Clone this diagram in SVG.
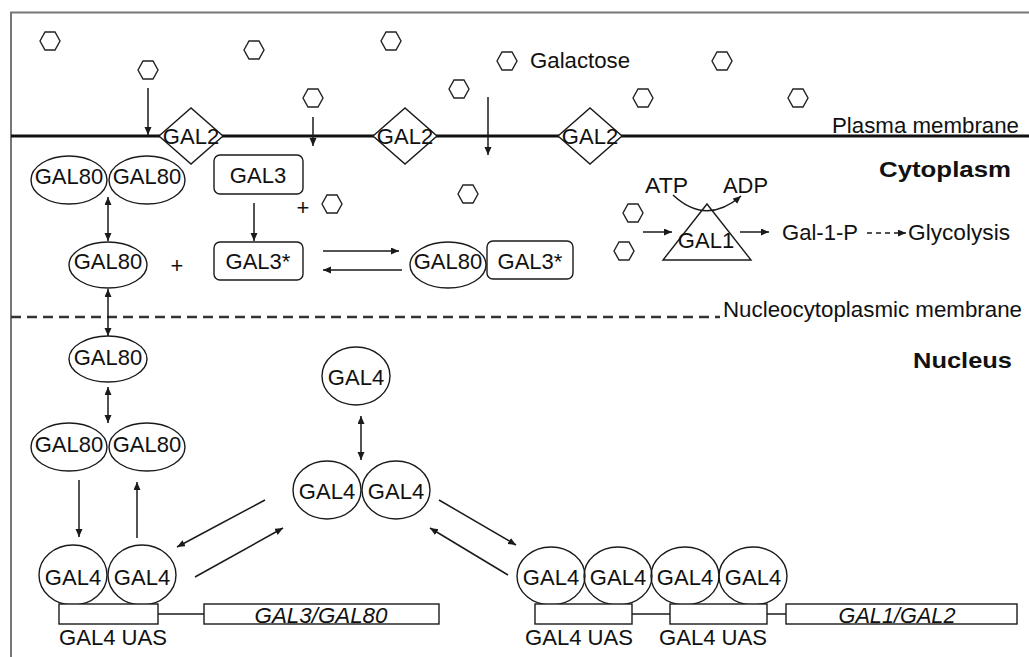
<svg xmlns="http://www.w3.org/2000/svg" xmlns:xlink="http://www.w3.org/1999/xlink" width="1029" height="657" viewBox="0 0 1029 657">
<defs>
<style>
text{font-family:"Liberation Sans",Arial,sans-serif;font-size:22px;fill:#111;}
.c{text-anchor:middle;}
.b{font-weight:bold;}
.i{font-style:italic;}
.sh{fill:none;stroke:#1a1a1a;stroke-width:1.4;}
.shw{fill:#fff;stroke:#1a1a1a;stroke-width:1.4;}
.hex{fill:none;stroke:#222;stroke-width:1.4;}
.ar{fill:none;stroke:#1a1a1a;stroke-width:1.5;}
</style>
<marker id="ah" markerUnits="userSpaceOnUse" markerWidth="10" markerHeight="8" refX="8" refY="3.5" orient="auto-start-reverse">
<path d="M0,0 L8,3.5 L0,7 z" fill="#1a1a1a"/>
</marker>
<polygon id="hx" points="-10,0 -5,-9 5,-9 10,0 5,9 -5,9"/>
</defs>
<rect width="1029" height="657" fill="#fff"/>
<!-- frame -->
<g id="frame" fill="none" stroke="#777" stroke-width="2">
<path d="M1029,12.5 H11 V657"/>
</g>
<!-- membranes -->
<g id="membranes">
<line x1="11" y1="136" x2="1029" y2="136" stroke="#111" stroke-width="3"/>
<line x1="11" y1="317" x2="720" y2="317" stroke="#333" stroke-width="2.5" stroke-dasharray="10,6"/>
<text x="832" y="133" textLength="187" lengthAdjust="spacingAndGlyphs">Plasma membrane</text>
<text x="723" y="317" textLength="299" lengthAdjust="spacingAndGlyphs">Nucleocytoplasmic membrane</text>
<text class="b" x="879" y="177" font-size="24" textLength="132" lengthAdjust="spacingAndGlyphs">Cytoplasm</text>
<text class="b" x="913" y="368" font-size="24" textLength="99" lengthAdjust="spacingAndGlyphs">Nucleus</text>
</g>
<!-- galactose molecules -->
<g id="galactose" class="hex">
<use xlink:href="#hx" href="#hx" x="50" y="41"/>
<use xlink:href="#hx" href="#hx" x="148" y="70"/>
<use xlink:href="#hx" href="#hx" x="254" y="50"/>
<use xlink:href="#hx" href="#hx" x="391" y="41"/>
<use xlink:href="#hx" href="#hx" x="313" y="98"/>
<use xlink:href="#hx" href="#hx" x="459" y="89"/>
<use xlink:href="#hx" href="#hx" x="507" y="61"/>
<use xlink:href="#hx" href="#hx" x="722" y="61"/>
<use xlink:href="#hx" href="#hx" x="643" y="98"/>
<use xlink:href="#hx" href="#hx" x="798" y="98"/>
<use xlink:href="#hx" href="#hx" x="468" y="194"/>
<use xlink:href="#hx" href="#hx" x="332" y="204"/>
<use xlink:href="#hx" href="#hx" x="633" y="213"/>
<use xlink:href="#hx" href="#hx" x="624" y="251"/>
</g>
<text x="530" y="68" textLength="100" lengthAdjust="spacingAndGlyphs">Galactose</text>
<!-- connectors -->
<g id="connectors" class="ar">
<line x1="148" y1="88" x2="148" y2="135" marker-end="url(#ah)"/>
<line x1="313" y1="117" x2="313" y2="146" marker-end="url(#ah)"/>
<line x1="488" y1="97" x2="488" y2="155" marker-end="url(#ah)"/>
<line x1="108" y1="197" x2="108" y2="241" marker-start="url(#ah)" marker-end="url(#ah)"/>
<line x1="254" y1="203" x2="254" y2="241" marker-end="url(#ah)"/>
<line x1="323" y1="251" x2="399" y2="251" marker-end="url(#ah)"/>
<line x1="402" y1="270" x2="323" y2="270" marker-end="url(#ah)"/>
<line x1="108" y1="289" x2="108" y2="336" marker-start="url(#ah)" marker-end="url(#ah)"/>
<line x1="108" y1="387" x2="108" y2="423" marker-start="url(#ah)" marker-end="url(#ah)"/>
<line x1="79" y1="480" x2="79" y2="537" marker-end="url(#ah)"/>
<line x1="137" y1="538" x2="137" y2="482" marker-end="url(#ah)"/>
<line x1="361" y1="416" x2="361" y2="460" marker-start="url(#ah)" marker-end="url(#ah)"/>
<line x1="265" y1="500" x2="177" y2="547" marker-end="url(#ah)"/>
<line x1="195" y1="577" x2="283" y2="528" marker-end="url(#ah)"/>
<line x1="439" y1="500" x2="516" y2="545" marker-end="url(#ah)"/>
<line x1="508" y1="575" x2="430" y2="528" marker-end="url(#ah)"/>
<line x1="643" y1="232" x2="672" y2="232" marker-end="url(#ah)"/>
<line x1="740" y1="232" x2="769" y2="232" marker-end="url(#ah)"/>
<line x1="867" y1="233" x2="906" y2="233" stroke-dasharray="5,4" marker-end="url(#ah)"/>
<path d="M673,195 Q706,226 741,196" marker-end="url(#ah)"/>
<line x1="158" y1="614" x2="204" y2="614"/>
<line x1="632" y1="614" x2="670" y2="614"/>
<line x1="767" y1="614" x2="786" y2="614"/>
</g>
<!-- GAL2 transporters -->
<g id="gal2-1"><polygon class="shw" points="159,136 191,108 223,136 191,164"/><text class="c" x="191" y="144">GAL2</text></g>
<g id="gal2-2"><polygon class="shw" points="373,136 405,108 437,136 405,164"/><text class="c" x="405" y="144">GAL2</text></g>
<g id="gal2-3"><polygon class="shw" points="558,136 590,108 622,136 590,164"/><text class="c" x="590" y="144">GAL2</text></g>
<!-- cytoplasm nodes -->
<g id="gal80-dimer-cyto">
<ellipse class="sh" cx="69" cy="180" rx="38" ry="24"/><text class="c" x="69" y="184">GAL80</text>
<ellipse class="sh" cx="147" cy="180" rx="38" ry="24"/><text class="c" x="147" y="184">GAL80</text>
</g>
<g id="gal3"><rect class="sh" x="214" y="155" width="89" height="39" rx="6"/><text class="c" x="258" y="183">GAL3</text></g>
<text class="c" x="303" y="215" font-size="24">+</text>
<g id="gal80-cyto"><ellipse class="sh" cx="108" cy="265" rx="39" ry="23"/><text class="c" x="108" y="269">GAL80</text></g>
<text class="c" x="177" y="273" font-size="24">+</text>
<g id="gal3-star"><rect class="sh" x="214" y="242" width="89" height="38" rx="6"/><text class="c" x="258" y="269">GAL3*</text></g>
<g id="gal80-gal3-complex">
<ellipse class="sh" cx="448" cy="265" rx="38" ry="23"/><text class="c" x="448" y="269">GAL80</text>
<rect class="sh" x="487" y="241" width="86" height="38" rx="6"/><text class="c" x="530" y="269">GAL3*</text>
</g>
<g id="gal1">
<polygon class="sh" points="707,204 751,260 663,260"/>
<text class="c" x="706" y="248">GAL1</text>
</g>
<text x="645" y="193" textLength="43" lengthAdjust="spacingAndGlyphs">ATP</text>
<text x="723" y="193" textLength="45" lengthAdjust="spacingAndGlyphs">ADP</text>
<text x="782" y="240" textLength="76" lengthAdjust="spacingAndGlyphs">Gal-1-P</text>
<text x="908" y="240" textLength="102" lengthAdjust="spacingAndGlyphs">Glycolysis</text>
<!-- nucleus nodes -->
<g id="gal80-nuc"><ellipse class="sh" cx="108" cy="359" rx="39" ry="23"/><text class="c" x="108" y="365">GAL80</text></g>
<g id="gal80-dimer-nuc">
<ellipse class="sh" cx="69" cy="447" rx="38" ry="24"/><text class="c" x="69" y="452">GAL80</text>
<ellipse class="sh" cx="147" cy="447" rx="38" ry="24"/><text class="c" x="147" y="452">GAL80</text>
</g>
<g id="gal4-mono"><ellipse class="sh" cx="356" cy="376" rx="34" ry="29"/><text class="c" x="356" y="385">GAL4</text></g>
<g id="gal4-dimer-free">
<ellipse class="sh" cx="327" cy="490" rx="34" ry="29"/><text class="c" x="327" y="499">GAL4</text>
<ellipse class="sh" cx="396" cy="490" rx="34" ry="29"/><text class="c" x="396" y="499">GAL4</text>
</g>
<g id="gal4-dimer-bound-left">
<ellipse class="sh" cx="73" cy="575" rx="34" ry="30"/><text class="c" x="73" y="585">GAL4</text>
<ellipse class="sh" cx="142" cy="575" rx="34" ry="30"/><text class="c" x="142" y="585">GAL4</text>
</g>
<g id="promoter-gal3-gal80">
<rect class="shw" x="59" y="604" width="99" height="20"/>
<rect class="shw" x="204" y="604" width="235" height="20"/>
<text class="c i" x="321" y="623" textLength="133" lengthAdjust="spacingAndGlyphs">GAL3/GAL80</text>
<text x="59" y="645" textLength="108" lengthAdjust="spacingAndGlyphs">GAL4 UAS</text>
</g>
<g id="gal4-tetramer-bound-right">
<ellipse class="sh" cx="551" cy="576" rx="34" ry="29"/><text class="c" x="551" y="585">GAL4</text>
<ellipse class="sh" cx="618" cy="576" rx="34" ry="29"/><text class="c" x="618" y="585">GAL4</text>
<ellipse class="sh" cx="685" cy="576" rx="34" ry="29"/><text class="c" x="685" y="585">GAL4</text>
<ellipse class="sh" cx="753" cy="576" rx="34" ry="29"/><text class="c" x="753" y="585">GAL4</text>
</g>
<g id="promoter-gal1-gal2">
<rect class="shw" x="535" y="604" width="97" height="20"/>
<rect class="shw" x="670" y="604" width="97" height="20"/>
<rect class="shw" x="786" y="604" width="231" height="20"/>
<text class="c i" x="897" y="623" textLength="117" lengthAdjust="spacingAndGlyphs">GAL1/GAL2</text>
<text x="525" y="645" textLength="108" lengthAdjust="spacingAndGlyphs">GAL4 UAS</text>
<text x="659" y="645" textLength="108" lengthAdjust="spacingAndGlyphs">GAL4 UAS</text>
</g>
</svg>
